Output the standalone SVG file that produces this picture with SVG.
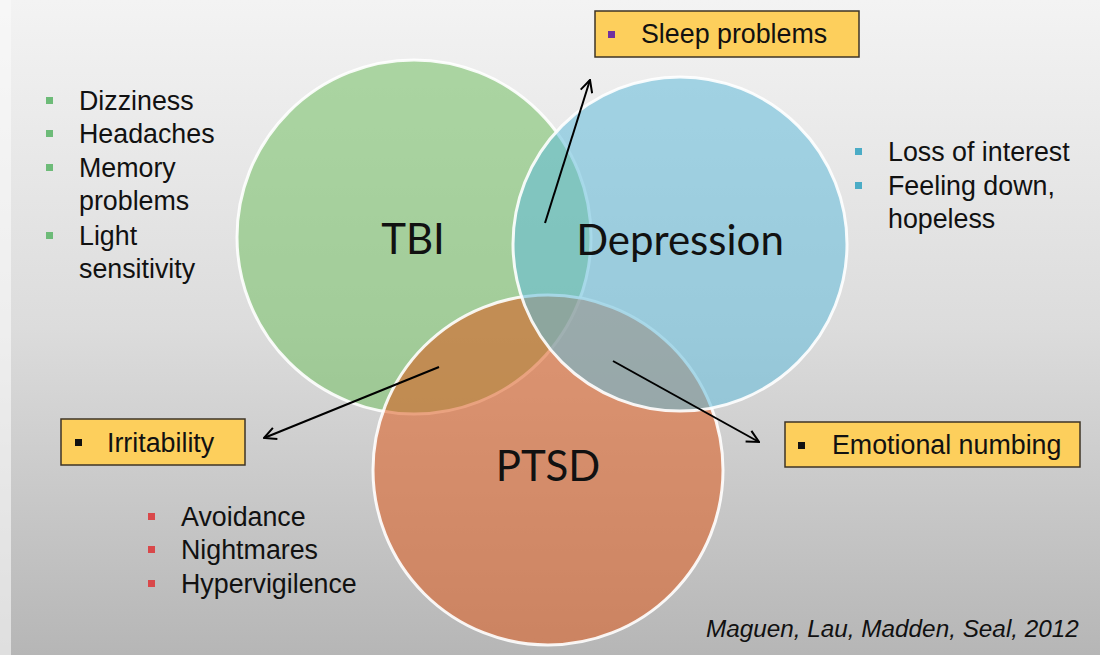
<svg xmlns="http://www.w3.org/2000/svg" width="1100" height="655" viewBox="0 0 1100 655">
<defs>
<linearGradient id="bg" x1="0" y1="0" x2="0" y2="1">
<stop offset="0" stop-color="#f3f3f3"/>
<stop offset="0.5" stop-color="#dcdcdc"/>
<stop offset="1" stop-color="#b6b6b6"/>
</linearGradient>
<marker id="arr" viewBox="0 0 14 14" refX="13" refY="7" markerWidth="14" markerHeight="14" markerUnits="userSpaceOnUse" orient="auto">
<path d="M1,1 L13,7 L1,13" fill="none" stroke="#000" stroke-width="2"/>
</marker>
</defs>
<style>
.c{stroke:#fff;stroke-width:3;stroke-opacity:0.9}
.lbl{font-family:Lato,"Open Sans",sans-serif;font-size:42px;fill:#111;text-anchor:middle}
.t{font-family:"Liberation Sans",Arial,sans-serif;font-size:26.8px;fill:#111}
.box{fill:#fdcf5c;stroke:#3e3426;stroke-width:1.5}
.conn{stroke:#000;stroke-width:2;fill:none}
.cite{font-family:"Liberation Sans",Arial,sans-serif;font-size:24.3px;font-style:italic;fill:#111}
</style>
<rect width="1100" height="655" fill="url(#bg)"/>
<rect x="0" y="0" width="11" height="655" fill="#fafafa" opacity="0.6"/>

<g id="tbi">
<circle class="c" cx="414" cy="237" r="177" fill="#72bf62" fill-opacity="0.55"/>
</g>
<g id="ptsd">
<circle class="c" cx="548" cy="470" r="175" fill="#dc5a1c" fill-opacity="0.55"/>
</g>
<g id="depression">
<circle class="c" cx="680" cy="244" r="167" fill="#62bcdb" fill-opacity="0.55"/>
</g>
<g id="labels">
<text class="lbl" x="413" y="254">TBI</text>
<text class="lbl" x="680" y="255">Depression</text>
<text class="lbl" x="548" y="481">PTSD</text>
</g>

<g id="tbi-symptoms">
<rect x="46" y="97" width="7" height="7" fill="#6dbb78"/>
<rect x="46" y="130" width="7" height="7" fill="#6dbb78"/>
<rect x="46" y="164" width="7" height="7" fill="#6dbb78"/>
<rect x="46" y="232" width="7" height="7" fill="#6dbb78"/>
<text class="t" x="79" y="110">Dizziness</text>
<text class="t" x="79" y="143">Headaches</text>
<text class="t" x="79" y="177">Memory</text>
<text class="t" x="79" y="210">problems</text>
<text class="t" x="79" y="245">Light</text>
<text class="t" x="79" y="278">sensitivity</text>
</g>

<g id="depression-symptoms">
<rect x="855" y="148" width="7" height="7" fill="#4bacc6"/>
<rect x="855" y="182" width="7" height="7" fill="#4bacc6"/>
<text class="t" x="888" y="161">Loss of interest</text>
<text class="t" x="888" y="195">Feeling down,</text>
<text class="t" x="888" y="228">hopeless</text>
</g>

<g id="ptsd-symptoms">
<rect x="148" y="513" width="7" height="7" fill="#d9484a"/>
<rect x="148" y="546" width="7" height="7" fill="#d9484a"/>
<rect x="148" y="580" width="7" height="7" fill="#d9484a"/>
<text class="t" x="181" y="526">Avoidance</text>
<text class="t" x="181" y="559">Nightmares</text>
<text class="t" x="181" y="593">Hypervigilence</text>
</g>

<g id="sleep">
<rect class="box" x="595" y="11" width="264" height="46"/>
<rect x="608" y="31" width="7" height="7" fill="#7030a0"/>
<text class="t" x="641" y="43">Sleep problems</text>
</g>
<g id="irritability">
<rect class="box" x="61" y="419" width="184" height="46"/>
<rect x="75" y="439" width="7" height="7" fill="#111"/>
<text class="t" x="107" y="452">Irritability</text>
</g>
<g id="numbing">
<rect class="box" x="785" y="422" width="295" height="45"/>
<rect x="798" y="442" width="7" height="7" fill="#111"/>
<text class="t" x="832" y="454">Emotional numbing</text>
</g>

<g id="connectors">
<line class="conn" x1="545" y1="223" x2="590" y2="80" marker-end="url(#arr)"/>
<line class="conn" x1="439" y1="367" x2="264" y2="438" marker-end="url(#arr)"/>
<line class="conn" x1="613" y1="361" x2="759" y2="442" marker-end="url(#arr)"/>
</g>

<text class="cite" x="706" y="637">Maguen, Lau, Madden, Seal, 2012</text>
</svg>
